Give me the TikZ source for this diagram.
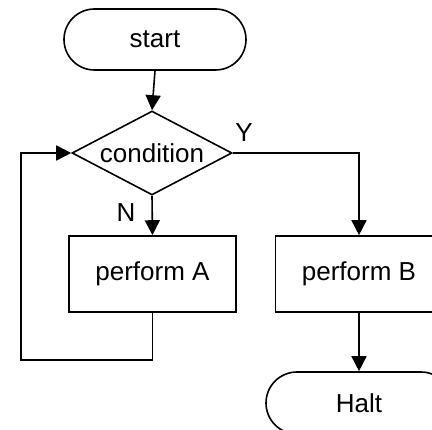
\documentclass[tikz,border=0pt]{standalone}
\usepackage{fontspec}
\setmainfont{Liberation Sans}
\usetikzlibrary{shapes.geometric,arrows.meta}
\begin{document}
\begin{tikzpicture}[x=1pt,y=-1pt,
  every node/.style={font=\fontsize{26}{30}\selectfont},
  line/.style={line width=1.6pt},
  arrow/.style={line, -{Triangle[length=15pt,width=15pt]}},
  terminal/.style={draw, line width=1.6pt, rectangle, rounded corners=30.5pt,
    minimum width=182pt, minimum height=61pt, inner sep=0pt},
  process/.style={draw, line width=1.6pt, rectangle,
    minimum width=167pt, minimum height=76pt, inner sep=0pt},
  decision/.style={draw, line width=1.6pt, diamond, aspect=1.9,
    minimum width=160pt, minimum height=84pt, inner sep=0pt}]
  \useasboundingbox (0,0) rectangle (432,430);

  \node[terminal] (start) at (155,39.5) {start};
  \node[decision] (cond) at (152,153) {condition};
  \node[process] (pA) at (152.5,274) {perform A};
  \node[process] (pB) at (359,274) {perform B};
  \node[terminal, minimum width=186pt, minimum height=62pt, rounded corners=31pt] (halt) at (359,403) {Halt};

  \coordinate (loopbottom) at (21,360);

  \draw[arrow] (start.south) -- (cond.north);
  \draw[arrow] (cond.south) -- (pA.north);
  \draw[arrow] (cond.east) -| (pB.north);
  \draw[arrow] (pB.south) -- (halt.north);
  \draw[arrow] (pA.south) |- (loopbottom) |- (cond.west);

  \node (ylabel) at (244,133) {Y};
  \node (nlabel) at (126,213) {N};
\end{tikzpicture}
\end{document}
